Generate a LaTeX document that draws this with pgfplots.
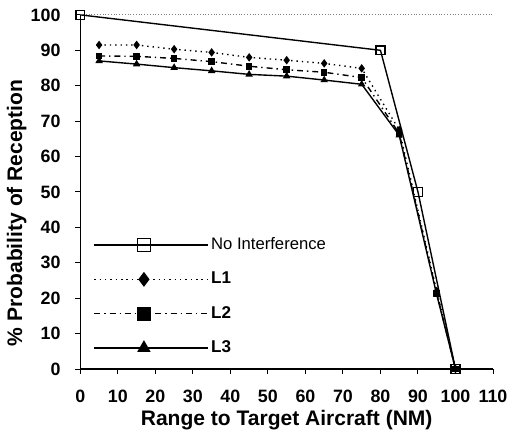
\documentclass[border=0pt]{standalone}
\usepackage{fontspec}
\setmainfont{Liberation Sans}
\usepackage{pgfplots}
\pgfplotsset{compat=1.18}
\begin{document}
\begin{tikzpicture}
\begin{axis}[
  name=ax,
  scale only axis,
  width=208pt, height=178.5pt,
  xmin=0, xmax=110, ymin=0, ymax=100,
  xtick={0,10,...,110}, ytick={0,10,...,100},
  axis lines*=left,
  axis line style={-, line width=0.7pt},
  tick align=outside,
  major tick length=2.5pt,
  tick style={black, line width=0.5pt},
  /pgf/number format/assume math mode=true,
  tick label style={font=\bfseries\fontsize{9}{10}\selectfont},
  xticklabel style={yshift=-4.5pt},
  yticklabel style={xshift=-4pt},
  xlabel={\bfseries Range to Target Aircraft (NM)},
  ylabel={\bfseries \% Probability of Reception},
  xlabel style={font=\fontsize{10.6}{12}\selectfont, at={(axis description cs:0.5,0)}, anchor=north, inner sep=0pt, yshift=-20.5pt},
  ylabel style={font=\fontsize{10.6}{12}\selectfont, at={([xshift=-27pt]axis description cs:0,0.441)}, anchor=south, rotate=0, inner sep=0pt},
  legend style={draw=none, fill=none, at={(axis cs:3.44,37.8)}, anchor=north west,
    row sep=7.8pt, inner sep=0pt, nodes={inner sep=1pt}},
  legend cell align=left,
  legend image code/.code={%
    \path (0pt,0pt) -- (57.5pt,0pt);
    \draw[#1, mark=none] (0pt,0pt) -- (50pt,0pt);
    \draw[#1, mark size=3.2pt, solid] plot coordinates {(25pt,0pt)};
  },
]
\draw[gray, line width=0.4pt, densely dotted] (rel axis cs:0,1) -- (rel axis cs:1,1);
\draw[gray!70, line width=0.4pt] (rel axis cs:1,1) -- (rel axis cs:1,0);

\addplot[black, line width=0.7pt, mark=square, mark size=2.2pt, mark options={fill=white, solid}]
  coordinates {(0,100) (80,90) (90,50) (100,0)};
\addlegendentry{\fontsize{8.4}{9}\selectfont No Interference}

\addplot[black, line width=0.7pt, dotted, mark=diamond*, mark size=1.6pt, mark options={solid}]
  coordinates {(5,91.5) (15,91.5) (25,90.3) (35,89.4) (45,88.0) (55,87.2) (65,86.3) (75,84.9) (85,67.5) (95,22) (100,0)};
\addlegendentry{\bfseries\fontsize{8.6}{9}\selectfont L1}

\addplot[black, line width=0.7pt, dash dot, mark=square*, mark size=1.3pt, mark options={solid}]
  coordinates {(5,88.4) (15,88.3) (25,87.7) (35,86.8) (45,85.5) (55,84.5) (65,83.8) (75,82.3) (85,66.5) (95,21.5) (100,0)};
\addlegendentry{\bfseries\fontsize{8.6}{9}\selectfont L2}

\addplot[black, line width=0.7pt, mark=triangle*, mark size=1.5pt, mark options={solid}]
  coordinates {(5,87.0) (15,86.1) (25,85.1) (35,84.2) (45,83.2) (55,82.7) (65,81.6) (75,80.4) (85,66) (95,21) (100,0)};
\addlegendentry{\bfseries\fontsize{8.6}{9}\selectfont L3}
\end{axis}
\path ([xshift=-40.5pt,yshift=-34pt]ax.south west) rectangle ([xshift=8.5pt,yshift=7.5pt]ax.north east);
\end{tikzpicture}
\end{document}
